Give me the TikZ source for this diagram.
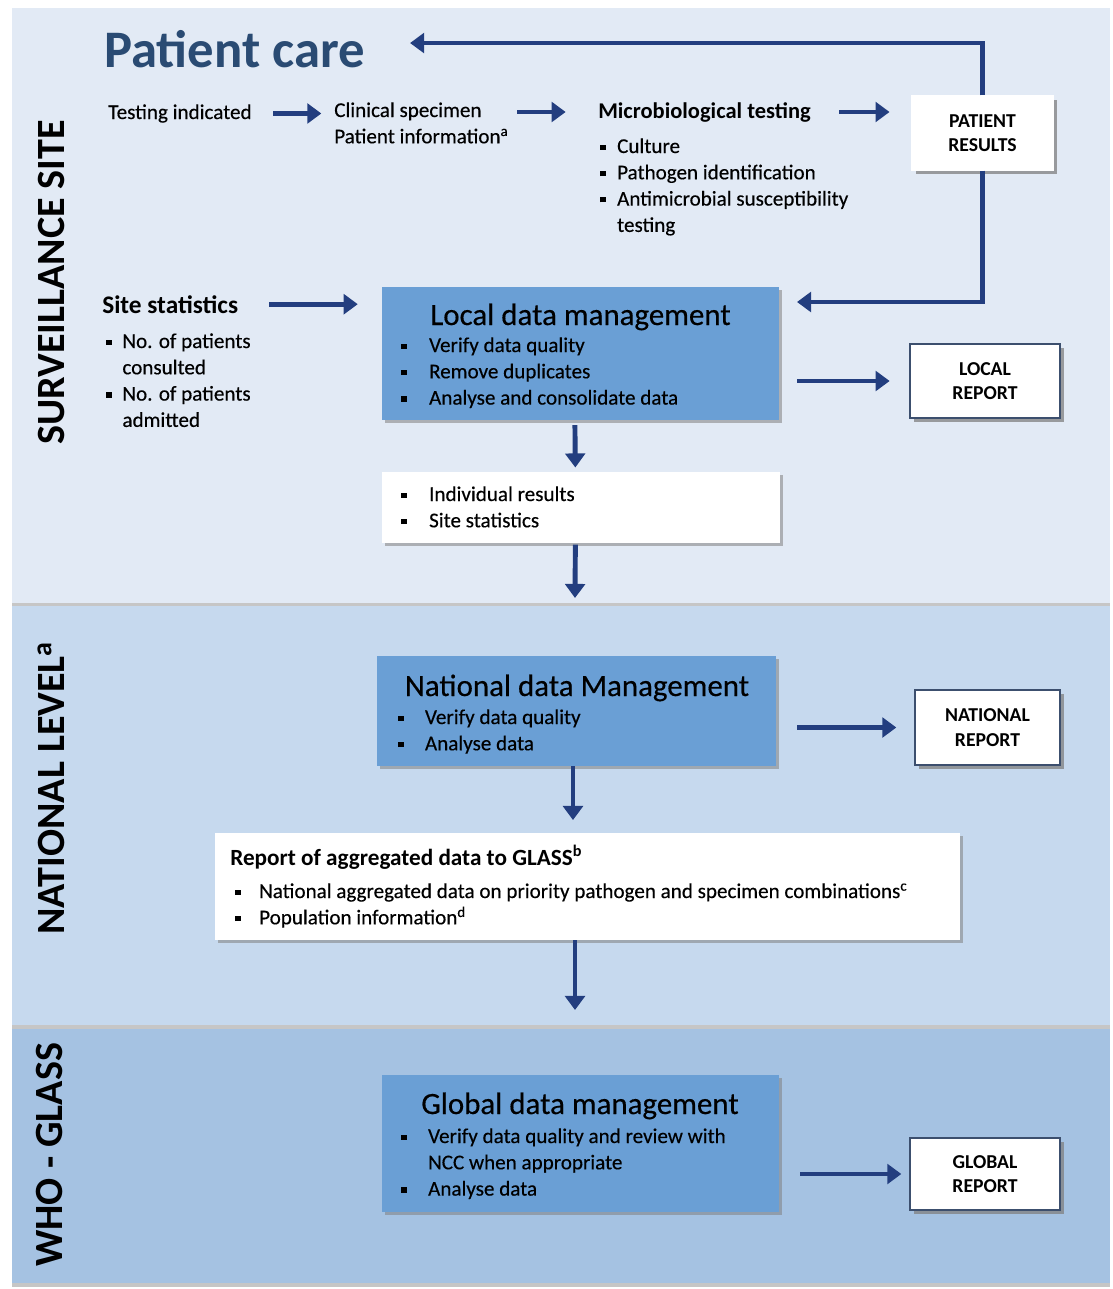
\documentclass[tikz,border=0pt]{standalone}
\usepackage{fontspec}
\setmainfont{Carlito}[UprightFeatures={FakeBold=0.35}]
\usetikzlibrary{arrows.meta,shadows}

\definecolor{sitebg}{HTML}{E2EAF5}
\definecolor{natbg}{HTML}{C6D9EE}
\definecolor{whobg}{HTML}{A5C2E2}
\definecolor{mgmtfill}{HTML}{6A9FD5}
\definecolor{flowblue}{HTML}{233E7F}
\definecolor{caretext}{HTML}{2A4B73}
\definecolor{repline}{HTML}{3C4F6E}

\def\sqbul{\raisebox{2.2pt}{\rule{3.8pt}{3.8pt}}}
\newcommand{\bitem}[2][19.8pt]{\makebox[#1][l]{\sqbul}#2}

\tikzset{
  band/.style={fill=#1, drop shadow={shadow xshift=0pt, shadow yshift=-2.5pt, opacity=0.45}},
  bandlabel/.style={rotate=90, anchor=base west, inner sep=0pt, font=\fontsize{28.5}{30}\selectfont\bfseries},
  txt/.style={inner sep=0pt, anchor=base west, font=\fontsize{15}{18.7}\selectfont},
  head/.style={inner sep=0pt, anchor=base west, font=\fontsize{#1}{#1}\selectfont\bfseries},
  mgmt/.style={fill=mgmtfill, inner sep=0pt, drop shadow={shadow xshift=2pt, shadow yshift=-2pt, opacity=0.55}},
  mgmttitle/.style={inner sep=0pt, anchor=base, font=\fontsize{22}{26}\selectfont},
  listbox/.style={fill=white, inner sep=0pt, drop shadow={shadow xshift=2pt, shadow yshift=-2pt, opacity=0.55}},
  report/.style={fill=white, draw=#1, line width=0.9pt, inner sep=0pt, align=center, font=\fontsize{14}{17.5}\selectfont\bfseries, drop shadow={shadow xshift=2.5pt, shadow yshift=-2.5pt, opacity=0.75}},
  flow/.style={draw=flowblue, line width=3.5pt, -{Triangle[width=14pt,length=10pt]}},
}

\begin{document}
\begin{tikzpicture}[x=0.025cm, y=-0.025cm]
  \useasboundingbox (0,0) rectangle (1112,1289);

  %%%%% BANDS %%%%%
  \path[band=sitebg] (12,8) rectangle (1110,603);
  \path[band=natbg] (12,606) rectangle (1110,1025);
  \path[band=whobg] (12,1029) rectangle (1110,1283);

  \node[bandlabel] (sitelabel) at (64,445) {SURVEILLANCE SITE};
  \node[bandlabel] (natlabel) at (64,935) {NATIONAL LEVEL\textsuperscript{a}};
  \node[bandlabel] (wholabel) at (62,1267) {WHO - GLASS};

  %%%%% PATIENT CARE %%%%%
  \node[head=37.5, text=caretext] (care) at (104,67) {Patient care};

  \node[txt] (testing) at (108,119) {Testing indicated};
  \node[txt] (specimen) at (334,117) {\begin{tabular}[t]{@{}l@{}}Clinical specimen\\Patient information\textsuperscript{a}\end{tabular}};
  \node[head=16] (micro) at (598,118) {Microbiological testing};
  \node[txt] (microlist) at (600,153) {\begin{tabular}[t]{@{}l@{}}\bitem[12pt]{Culture}\\\bitem[12pt]{Pathogen identification}\\\bitem[12pt]{Antimicrobial susceptibility}\\\hspace*{12pt}testing\end{tabular}};
  \node[report=white, minimum width=3.525cm, minimum height=1.85cm] (prs) at (982.5,133) {PATIENT\\RESULTS};

  \draw[flow, shorten <=15pt, shorten >=9pt] (testing.east) -- (testing.east -| specimen.west);
  \draw[flow, shorten <=6pt, shorten >=23pt] (specimen.east |- micro.west) -- (micro.west);
  \draw[flow, shorten <=20pt, shorten >=15.5pt] (micro.east) -- (micro.east -| prs.west);
  \draw[flow, shorten >=32pt] (prs.north) |- ([yshift=4pt]care.east);

  %%%%% LOCAL %%%%%
  \node[head=18] (sitestat) at (102,313) {Site statistics};
  \node[txt] (sitelist) at (106,348) {\begin{tabular}[t]{@{}l@{}}\bitem[11.5pt]{No. of patients}\\\hspace*{11.5pt}consulted\\\bitem[11.5pt]{No. of patients}\\\hspace*{11.5pt}admitted\end{tabular}};

  \node[mgmt, minimum width=9.925cm, minimum height=3.325cm] (local) at (580.5,353.5) {};
  \node[mgmttitle] (localtitle) at (580.5,325) {Local data management};
  \node[txt] (locallist) at (401,352) {\begin{tabular}[t]{@{}l@{}}\bitem{Verify data quality}\\\bitem{Remove duplicates}\\\bitem{Analyse and consolidate data}\end{tabular}};
  \node[report=repline, minimum width=3.75cm, minimum height=1.85cm] (lrep) at (985,381) {LOCAL\\REPORT};

  \node[listbox, minimum width=9.95cm, minimum height=1.775cm] (results) at (581,507.5) {};
  \node[txt] (resultlist) at (401,501) {\begin{tabular}[t]{@{}l@{}}\bitem{Individual results}\\\bitem{Site statistics}\end{tabular}};

  \coordinate (fbtip) at (797,302);
  \coordinate (down1) at (575,598);
  \draw[flow] (prs.south) |- (fbtip);
  \draw[flow, shorten <=22pt, shorten >=17pt] (sitestat.east) -- (sitestat.east -| local.west);
  \draw[flow, shorten <=12.8pt, shorten >=14pt] (local.east |- lrep.west) -- (lrep.west);
  \draw[flow, shorten <=3.5pt, shorten >=3pt] ([xshift=-4pt]local.south) -- ([xshift=-4pt]results.north);
  \draw[flow, shorten <=1pt] ([xshift=-4pt]results.south) -- (down1);

  %%%%% NATIONAL %%%%%
  \node[mgmt, minimum width=9.975cm, minimum height=2.75cm] (nat) at (576.5,711) {};
  \node[mgmttitle] (nattitle) at (577,696) {National data Management};
  \node[txt] (natlist) at (398,724) {\begin{tabular}[t]{@{}l@{}}\bitem[19pt]{Verify data quality}\\\bitem[19pt]{Analyse data}\end{tabular}};
  \node[report=repline, minimum width=3.625cm, minimum height=1.875cm] (nrep) at (987.5,727.5) {NATIONAL\\REPORT};

  \node[listbox, minimum width=18.625cm, minimum height=2.675cm] (glass) at (587.5,886.5) {};
  \node[head=16.5] (glasstitle) at (230,865) {Report of aggregated data to GLASS\textsuperscript{b}};
  \node[txt] (glasslist) at (235,898) {\begin{tabular}[t]{@{}l@{}}\bitem[17pt]{National aggregated data on priority pathogen and specimen combinations\textsuperscript{c}}\\\bitem[17pt]{Population information\textsuperscript{d}}\end{tabular}};

  \coordinate (down2) at (575,1010);
  \draw[flow, shorten <=15pt, shorten >=12.8pt] (nat.east |- nrep.west) -- (nrep.west);
  \draw[flow, shorten >=9pt] ([xshift=-2.5pt]nat.south) -- ([xshift=-2.5pt]nat.south |- glass.north);
  \draw[flow] (glass.south -| down2) -- (down2);

  %%%%% WHO - GLASS %%%%%
  \node[mgmt, minimum width=9.925cm, minimum height=3.425cm] (glob) at (580.5,1143.5) {};
  \node[mgmttitle] (globtitle) at (580,1114) {Global data management};
  \node[txt] (globlist) at (401,1143) {\begin{tabular}[t]{@{}l@{}}\bitem[19.1pt]{Verify data quality and review with}\\\hspace*{19.1pt}NCC when appropriate\\\bitem[19.1pt]{Analyse data}\end{tabular}};
  \node[report=repline, minimum width=3.75cm, minimum height=1.8cm] (grep) at (985,1174) {GLOBAL\\REPORT};

  \draw[flow, shorten <=15pt, shorten >=5.7pt] (glob.east |- grep.west) -- (grep.west);
\end{tikzpicture}
\end{document}
